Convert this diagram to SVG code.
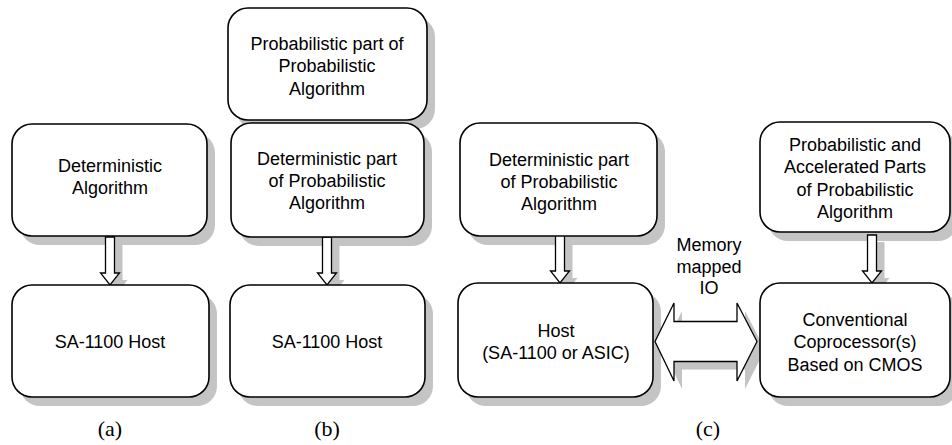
<svg xmlns="http://www.w3.org/2000/svg" width="952" height="445" viewBox="0 0 952 445">
  <defs>
    <style>
      .box { fill: #ffffff; stroke: #000000; stroke-width: 1.6; }
      .arrow { fill: #ffffff; stroke: #000000; stroke-width: 1.3; stroke-linejoin: miter; }
      .label { font-family: "Liberation Sans", Arial, Helvetica, sans-serif; font-size: 18px; fill: #000000; text-anchor: middle; }
      .caption { font-family: "Liberation Serif", "Times New Roman", serif; font-size: 22px; fill: #000000; text-anchor: middle; }
    </style>
    <!-- downward block arrow, tip at (0,0), 48px long -->
    <path id="down" d="M -4.5,-48 V -12 H -9.5 L 0,0 L 9.5,-12 H 4.5 V -48 Z"/>
    <!-- double-headed block arrow -->
    <path id="dbl" d="M 0,38.5 L 19,0 V 18.5 H 82 V 0 L 102,38.5 L 82,78 V 58.5 H 19 V 78 Z"/>
  </defs>

  <!-- drop shadows -->
  <g id="shadows" fill="#c4c4c4" stroke="none">
    <rect x="20" y="133" width="195" height="112" rx="20" ry="20"/>
    <rect x="20" y="294" width="197" height="112" rx="20" ry="20"/>
    <rect x="236" y="17" width="199" height="112" rx="20" ry="20"/>
    <rect x="239" y="132" width="193" height="114" rx="20" ry="20"/>
    <rect x="238" y="294" width="195" height="112" rx="20" ry="20"/>
    <rect x="468" y="132" width="197" height="113" rx="20" ry="20"/>
    <rect x="466" y="292" width="195" height="114" rx="20" ry="20"/>
    <rect x="768" y="131" width="190" height="110" rx="20" ry="20"/>
    <rect x="768" y="292" width="190" height="114" rx="20" ry="20"/>
    <use href="#down" transform="translate(118,292)"/>
    <use href="#down" transform="translate(335,292)"/>
    <use href="#down" transform="translate(568,290)"/>
    <use href="#down" transform="translate(880,290)"/>
    <use href="#dbl" transform="translate(663,311)"/>
  </g>

  <!-- connectors -->
  <g id="connectors">
    <use href="#down" class="arrow" transform="translate(110,285)"/>
    <use href="#down" class="arrow" transform="translate(327,285)"/>
    <use href="#down" class="arrow" transform="translate(560,283)"/>
    <use href="#down" class="arrow" transform="translate(872,283)"/>
    <!-- memory mapped IO double arrow -->
    <use href="#dbl" class="arrow" stroke-width="1.6" transform="translate(655,303)"/>
    <text class="label" x="709" y="251">Memory</text>
    <text class="label" x="709" y="273">mapped</text>
    <text class="label" x="709" y="294">IO</text>
  </g>

  <!-- (a) -->
  <g id="a-algorithm">
    <rect class="box" x="12" y="124" width="195" height="112" rx="20"/>
    <text class="label" x="110" y="172">Deterministic</text>
    <text class="label" x="110" y="194">Algorithm</text>
  </g>
  <g id="a-host">
    <rect class="box" x="12" y="285" width="197" height="112" rx="20"/>
    <text class="label" x="110" y="348">SA-1100 Host</text>
  </g>
  <text class="caption" x="110" y="436">(a)</text>

  <!-- (b) -->
  <g id="b-probabilistic">
    <rect class="box" x="228" y="8" width="199" height="112" rx="20"/>
    <text class="label" x="327" y="50">Probabilistic part of</text>
    <text class="label" x="327" y="72">Probabilistic</text>
    <text class="label" x="327" y="95">Algorithm</text>
  </g>
  <g id="b-deterministic">
    <rect class="box" x="231" y="123" width="193" height="114" rx="20"/>
    <text class="label" x="327" y="165">Deterministic part</text>
    <text class="label" x="327" y="187">of Probabilistic</text>
    <text class="label" x="327" y="209">Algorithm</text>
  </g>
  <g id="b-host">
    <rect class="box" x="230" y="285" width="195" height="112" rx="20"/>
    <text class="label" x="327" y="348">SA-1100 Host</text>
  </g>
  <text class="caption" x="327" y="436">(b)</text>

  <!-- (c) -->
  <g id="c-deterministic">
    <rect class="box" x="460" y="123" width="197" height="113" rx="20"/>
    <text class="label" x="559" y="166">Deterministic part</text>
    <text class="label" x="559" y="188">of Probabilistic</text>
    <text class="label" x="559" y="210">Algorithm</text>
  </g>
  <g id="c-host">
    <rect class="box" x="458" y="283" width="195" height="114" rx="20"/>
    <text class="label" x="556" y="337">Host</text>
    <text class="label" x="556" y="359">(SA-1100 or ASIC)</text>
  </g>
  <g id="c-accelerated">
    <rect class="box" x="760" y="122" width="190" height="110" rx="20"/>
    <text class="label" x="855" y="151">Probabilistic and</text>
    <text class="label" x="855" y="173">Accelerated Parts</text>
    <text class="label" x="855" y="196">of Probabilistic</text>
    <text class="label" x="855" y="218">Algorithm</text>
  </g>
  <g id="c-coprocessor">
    <rect class="box" x="760" y="283" width="190" height="114" rx="20"/>
    <text class="label" x="855" y="326">Conventional</text>
    <text class="label" x="855" y="348">Coprocessor(s)</text>
    <text class="label" x="855" y="371">Based on CMOS</text>
  </g>
  <text class="caption" x="708" y="436">(c)</text>
</svg>
